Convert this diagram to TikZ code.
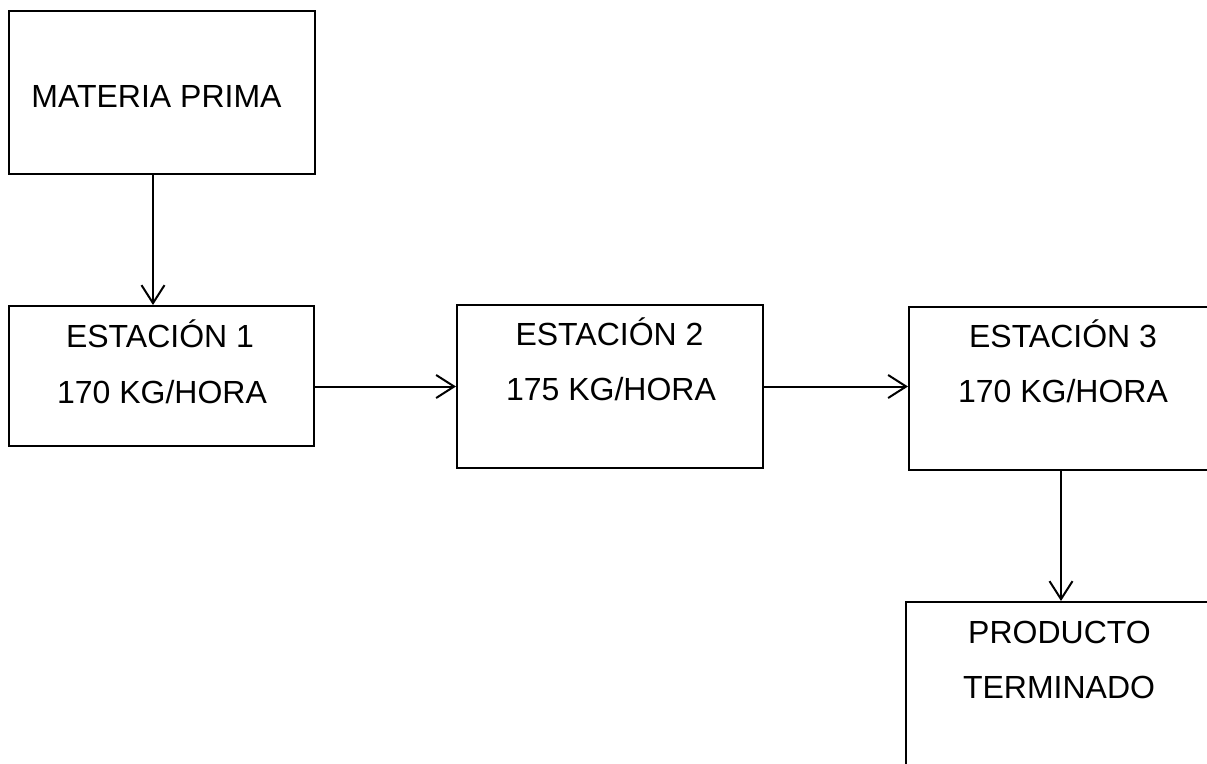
\documentclass[tikz,border=0pt]{standalone}
\usepackage{fontspec}
\setmainfont{Liberation Sans}
\usetikzlibrary{arrows.meta}
\begin{document}
\begin{tikzpicture}[x=1pt,y=-1pt,
  box/.style={draw=black, line width=2pt, rectangle, inner sep=0pt, minimum width=306pt, minimum height=163pt},
  lbl/.style={anchor=base, inner sep=0pt, font=\fontsize{32pt}{38pt}\selectfont},
  arr/.style={line width=2pt, -{Straight Barb[length=18pt,width=23pt,line width=2pt]}}]
\useasboundingbox (0,0) rectangle (1207,763);
\clip (0,0) rectangle (1207,763);
\fill[white] (0,0) rectangle (1207,763);
% boxes
\node[box] (mp) at (162,92.3) {};
\node[box, minimum width=305pt, minimum height=140pt] (e1) at (161.5,376) {};
\node[box] (e2) at (610,386.5) {};
\node[box] (e3) at (1062,388.5) {};
\node[box] (pt) at (1059,683.5) {};
% texts
\node[lbl] (mpt) at (156.5,107) {MATERIA PRIMA};
\node[lbl] (e1a) at (160,347) {ESTACIÓN 1};
\node[lbl] (e1b) at (162,403) {170 KG/HORA};
\node[lbl] (e2a) at (609.5,345) {ESTACIÓN 2};
\node[lbl] (e2b) at (611,400) {175 KG/HORA};
\node[lbl] (e3a) at (1063,347) {ESTACIÓN 3};
\node[lbl] (e3b) at (1063,402) {170 KG/HORA};
\node[lbl] (pta) at (1059.5,643) {PRODUCTO};
\node[lbl] (ptb) at (1059,698) {TERMINADO};
% connectors
\draw[arr] (mp.south -| 153,0) -- (e1.north -| 153,0);
\draw[arr] (e1.east |- e2.west) -- (e2.west);
\draw[arr] (e2.east) -- (e2.east -| e3.west);
\draw[arr] (e3.south -| 1061,0) -- (pt.north -| 1061,0);
\end{tikzpicture}
\end{document}
